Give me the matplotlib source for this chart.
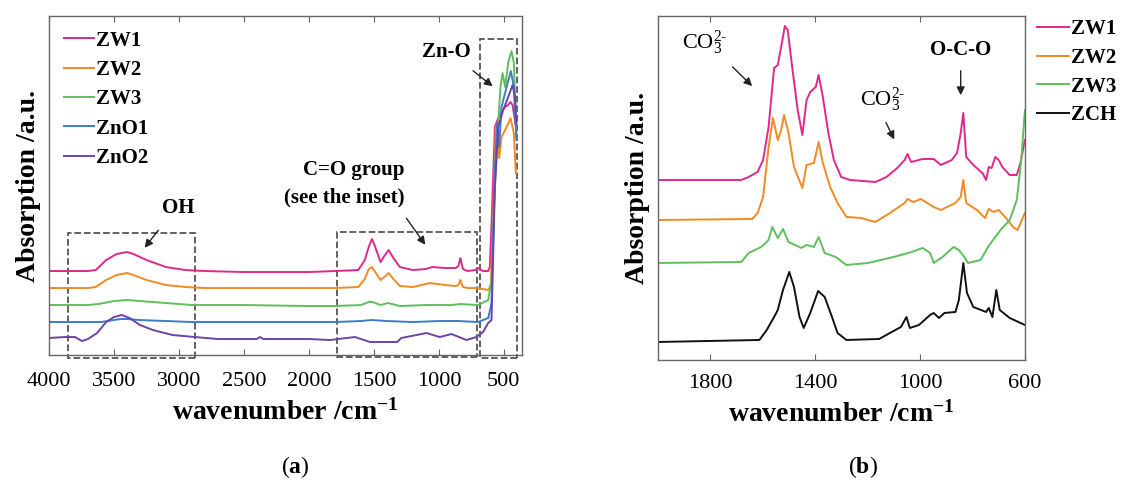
import matplotlib
matplotlib.use("Agg")
import matplotlib.pyplot as plt
from matplotlib.patches import Rectangle

plt.rcParams["font.family"] = "Liberation Serif"
plt.rcParams["mathtext.fontset"] = "custom"
plt.rcParams["mathtext.rm"] = "Liberation Serif"
plt.rcParams["mathtext.bf"] = "Liberation Serif:bold"
plt.rcParams["mathtext.it"] = "Liberation Serif:italic"

colors = {"ZW1": "#e0288a", "ZW2": "#f08a24", "ZW3": "#5dbf5d",
          "ZnO1": "#3d7cc9", "ZnO2": "#6a45a8", "ZCH": "#111111"}

# ---- panel (a): full FTIR spectra (wavenumber, offset absorption) ----
a_zw1_x = [4000, 3700, 3640, 3560, 3480, 3400, 3350, 3250, 3100, 2950, 2800, 2500, 2000, 1800,
           1620, 1570, 1540, 1516, 1495, 1449, 1420, 1387, 1350, 1300, 1200, 1100, 1050, 950,
           870, 850, 835, 815, 780, 720, 700, 660, 620, 608, 595, 569, 543, 518, 492, 467, 449,
           433, 415, 403]
a_zw1_y = [84, 84, 85, 95, 101, 103, 101, 95, 88, 85, 84, 83, 83, 84,
           85, 95, 108, 116, 110, 93, 99, 105, 97, 88, 85, 86, 88, 87,
           87, 89, 97, 86, 84, 85, 87, 84, 84, 88, 130, 228, 237, 243, 248, 250, 253,
           250, 235, 225]

a_zw2_x = [4000, 3700, 3640, 3560, 3480, 3400, 3350, 3250, 3100, 2950, 2800, 2500, 2000, 1800,
           1620, 1570, 1540, 1516, 1495, 1449, 1420, 1387, 1350, 1300, 1200, 1069, 950, 870,
           850, 835, 815, 780, 700, 620, 600, 582, 561, 536, 518, 479, 449, 423, 408]
a_zw2_y = [67, 67, 68, 75, 80, 82, 80, 75, 70, 68, 67, 67, 67, 67,
           68, 76, 86, 88, 84, 75, 78, 82, 76, 69, 68, 72, 70, 69,
           70, 75, 68, 67, 67, 65, 70, 140, 228, 197, 218, 228, 237, 222, 182]

a_zw3_x = [4000, 3700, 3620, 3500, 3400, 3300, 3100, 2900, 2500, 2000, 1800, 1600, 1540,
           1510, 1450, 1390, 1300, 1100, 900, 835, 700, 620, 595, 569, 543, 526, 510, 490,
           467, 441, 423, 408, 403]
a_zw3_y = [50, 50, 51, 54, 55, 54, 52, 50, 50, 49, 49, 50, 53,
           53, 50, 52, 49, 50, 50, 51, 50, 55, 75, 168, 232, 268, 282, 268,
           292, 304, 292, 235, 218]

a_zno1_x = [4000, 3700, 3600, 3500, 3450, 3400, 3300, 3100, 2900, 2500, 2000, 1800, 1600,
            1520, 1400, 1200, 1000, 850, 700, 620, 595, 569, 551, 536, 518, 479, 446, 423,
            403]
a_zno1_y = [33, 33, 33, 35, 36, 36, 35, 34, 33, 33, 33, 33, 34,
            35, 34, 33, 34, 34, 33, 37, 52, 185, 232, 208, 248, 268, 284, 268,
            215]

a_zno2_x = [4000, 3880, 3800, 3760, 3746, 3700, 3630, 3560, 3500, 3440, 3380, 3300, 3200,
            3050, 2877, 2700, 2400, 2377, 2350, 2000, 1838, 1646, 1530, 1320, 1290, 1095, 993,
            903, 788, 711, 660, 621, 595, 569, 543, 505, 467, 433, 415, 403]
a_zno2_y = [17, 18, 18, 15, 14, 16, 22, 33, 38, 40, 37, 30, 25,
            20, 18, 16, 16, 18, 16, 16, 15, 18, 13, 13, 17, 22, 18,
            21, 15, 18, 23, 32, 35, 168, 228, 245, 258, 270, 258, 232]

# ---- panel (b): carbonate region (wavenumber, offset absorption) ----
b_zw1_x = [2000, 1682, 1654, 1620, 1599, 1578, 1557, 1543, 1530, 1516, 1505, 1488, 1467,
           1449, 1433, 1419, 1398, 1387, 1371, 1350, 1329, 1301, 1267, 1170, 1128, 1087,
           1059, 1048, 1034, 990, 948, 921, 879, 859, 845, 835, 824, 797, 762, 748, 738,
           727, 713, 700, 686, 658, 631, 617, 600]
b_zw1_y = [180, 180, 183, 188, 200, 233, 292, 295, 313, 334, 330, 293, 250,
           225, 260, 268, 273, 285, 263, 227, 200, 183, 180, 178, 183, 192,
           200, 206, 198, 201, 201, 195, 200, 207, 227, 247, 203, 195, 187, 180, 193,
           192, 203, 200, 193, 185, 185, 197, 220]

b_zw2_x = [2000, 1640, 1620, 1599, 1578, 1561, 1543, 1530, 1519, 1502, 1481, 1449, 1433,
           1405, 1387, 1371, 1343, 1315, 1281, 1225, 1170, 1115, 1059, 1048, 1025, 997,
           948, 921, 865, 845, 835, 824, 783, 752, 738, 720, 700, 672, 645, 628, 600]
b_zw2_y = [140, 141, 147, 163, 213, 242, 220, 230, 245, 227, 193, 172, 195,
           197, 218, 197, 173, 157, 143, 142, 138, 147, 157, 161, 158, 161,
           153, 150, 157, 163, 180, 157, 150, 142, 151, 148, 150, 142, 133, 130, 147]

b_zw3_x = [2000, 1682, 1654, 1606, 1578, 1564, 1543, 1523, 1502, 1453, 1433, 1405, 1387,
           1364, 1322, 1281, 1198, 1101, 1032, 990, 962, 948, 914, 872, 852, 831, 817,
           769, 741, 713, 693, 658, 631, 614, 600]
b_zw3_y = [97, 98, 107, 113, 120, 133, 122, 131, 118, 112, 115, 113, 123,
           107, 103, 95, 97, 103, 108, 112, 107, 97, 103, 113, 110, 103, 97,
           100, 113, 123, 130, 140, 160, 200, 250]

b_zch_x = [2000, 1613, 1585, 1557, 1543, 1523, 1499, 1481, 1460, 1444, 1419, 1389, 1364,
           1336, 1315, 1281, 1156, 1115, 1073, 1052, 1039, 1004, 962, 948, 928, 907, 865,
           852, 835, 821, 797, 748, 738, 724, 709, 696, 658, 600]
b_zch_y = [18, 20, 30, 43, 50, 70, 88, 73, 43, 32, 47, 69, 63,
           43, 27, 20, 21, 27, 33, 43, 32, 35, 45, 47, 42, 47, 48,
           60, 97, 67, 53, 48, 52, 43, 70, 50, 42, 35]

a_series = [("ZW1", a_zw1_x, a_zw1_y), ("ZW2", a_zw2_x, a_zw2_y), ("ZW3", a_zw3_x, a_zw3_y),
            ("ZnO1", a_zno1_x, a_zno1_y), ("ZnO2", a_zno2_x, a_zno2_y)]
b_series = [("ZW1", b_zw1_x, b_zw1_y), ("ZW2", b_zw2_x, b_zw2_y), ("ZW3", b_zw3_x, b_zw3_y),
            ("ZCH", b_zch_x, b_zch_y)]

a_ticks = [4000, 3500, 3000, 2500, 2000, 1500, 1000, 500]
b_ticks = [1800, 1400, 1000, 600]

fig = plt.figure(figsize=(11.29, 4.86), dpi=100)
ax1 = fig.add_axes([0.0434, 0.2695, 0.419, 0.6975])
ax2 = fig.add_axes([0.5828, 0.2593, 0.325, 0.7078])

for ax, pad in ((ax1, 12), (ax2, 10)):
    for s in ax.spines.values():
        s.set_color("#666666")
        s.set_linewidth(1.0)
    ax.tick_params(axis="x", direction="in", top=True, length=4, color="#666666",
                   labelsize=16, pad=pad)
    ax.set_yticks([])
    ax.set_ylabel("Absorption /a.u.", fontsize=20, fontweight="bold", labelpad=6)
    ax.set_xlabel(r"wavenumber /cm$^{\mathbf{-1}}$", fontsize=20, fontweight="bold", labelpad=6)

for name, x, y in a_series:
    ax1.plot(x, y, color=colors[name], lw=1.4, label=name)
ax1.set_xlim(4000, 360)
ax1.set_ylim(0, 339)
ax1.set_xticks(a_ticks)
ax1.legend(loc="upper left", frameon=False, handlelength=1.45,
           handletextpad=0.12, labelspacing=0.45, borderaxespad=0.3,
           prop={"weight": "bold", "size": 15})

boxes = [(3854, 2877, -3, 122), (1785, 708, -2, 123), (685, 400, -3, 316)]
for x0, x1, y0, y1 in boxes:
    ax1.add_patch(Rectangle((x1, y0), x0 - x1, y1 - y0, fill=False, ls="--",
                            lw=1.3, ec="#555555", clip_on=False))

arrow = dict(arrowstyle="-|>", color="#222222", lw=1.0, mutation_scale=12)
ax1.annotate("", xy=(3277, 105), xytext=(3146, 127), arrowprops=arrow)
ax1.text(3008, 147, "OH", fontsize=15, fontweight="bold", ha="center", va="center")
ax1.annotate("", xy=(1092, 108), xytext=(1262, 139), arrowprops=arrow)
ax1.text(1265, 185, "C=O group", fontsize=15, fontweight="bold", ha="right", va="center")
ax1.text(1265, 158, "(see the inset)", fontsize=15, fontweight="bold", ha="right", va="center")
ax1.annotate("", xy=(569, 267), xytext=(754, 286), arrowprops=arrow)
ax1.text(946, 303, "Zn-O", fontsize=15, fontweight="bold", ha="center", va="center")

for name, x, y in b_series:
    ax2.plot(x, y, color=colors[name], lw=1.4, label=name)
ax2.set_xlim(2000, 600)
ax2.set_ylim(0, 344)
ax2.set_xticks(b_ticks)
ax2.legend(loc="upper left", bbox_to_anchor=(1.0, 1.027), frameon=False, handlelength=1.5,
           handletextpad=0.1, labelspacing=0.42, borderaxespad=0.2,
           prop={"weight": "bold", "size": 15})

ax2.text(1820, 317, r"CO$_3^{2\text{-}}$", fontsize=16, ha="center", va="center")
ax2.annotate("", xy=(1633, 272), xytext=(1723, 295), arrowprops=arrow)
ax2.text(1142, 260, r"CO$_3^{2\text{-}}$", fontsize=16, ha="center", va="center")
ax2.annotate("", xy=(1094, 218), xytext=(1135, 240), arrowprops=arrow)
ax2.text(845, 310, "O-C-O", fontsize=15, fontweight="bold", ha="center", va="center")
ax2.annotate("", xy=(845, 262), xytext=(845, 292), arrowprops=arrow)

fig.text(295 / 1129, 1 - 467 / 486, r"($\mathbf{a}$)", fontsize=17, ha="center", va="center")
fig.text(863 / 1129, 1 - 467 / 486, r"($\mathbf{b}$)", fontsize=17, ha="center", va="center")

fig.savefig("out.png", dpi=100)
